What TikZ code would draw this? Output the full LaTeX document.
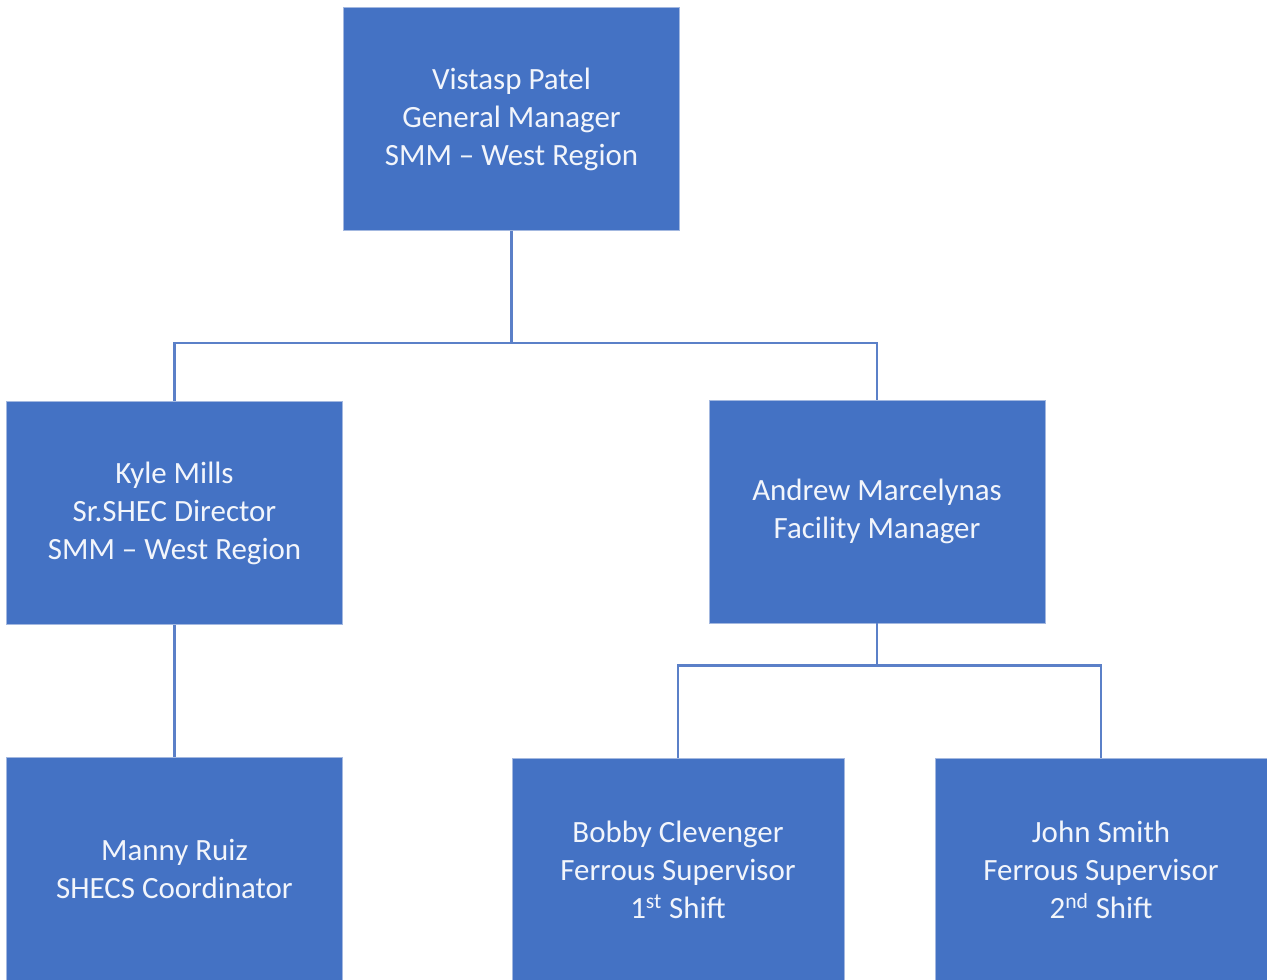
\documentclass[tikz,border=0pt]{standalone}
\usepackage{fontspec}
\setmainfont{Carlito}
\definecolor{caixa}{HTML}{4472C4}
\definecolor{borda}{HTML}{A3B8E0}
\definecolor{linha}{HTML}{5B80C8}
\definecolor{texto}{HTML}{F2F5FB}
\begin{document}
\begin{tikzpicture}[x=0.025cm,y=-0.025cm,
    cargo/.style={draw=borda,line width=0.6pt,fill=caixa,text=texto,align=center,
      inner sep=0pt,minimum width=8.4cm,minimum height=5.575cm,
      font=\fontsize{22}{27}\selectfont},
    elo/.style={draw=linha,line width=1.6pt}]
    \useasboundingbox (0,0) rectangle (1267,979);
    \clip (0,0) rectangle (1267,979);
    \node[cargo] (gm) at (511.5,119) {Vistasp Patel\\General Manager\\SMM -- West Region};
    \node[cargo] (kyle) at (174.5,513) {Kyle Mills\\Sr.SHEC Director\\SMM -- West Region};
    \node[cargo] (andrew) at (877,511.5) {Andrew Marcelynas\\Facility Manager};
    \node[cargo] (manny) at (174.5,869) {Manny Ruiz\\SHECS Coordinator};
    \node[cargo,minimum width=8.3cm] (bobby) at (678,870) {Bobby Clevenger\\Ferrous Supervisor\\1\textsuperscript{st} Shift};
    \node[cargo,minimum width=8.3cm] (john) at (1101,870) {John Smith\\Ferrous Supervisor\\2\textsuperscript{nd} Shift};
    \draw[elo] (gm.south) -- ++(0,112) -| (kyle.north);
    \draw[elo] (gm.south) -- ++(0,112) -| (andrew.north);
    \draw[elo] (kyle) -- (manny);
    \draw[elo] (andrew.south) -- ++(0,42) -| (bobby.north);
    \draw[elo] (andrew.south) -- ++(0,42) -| (john.north);
  \end{tikzpicture}
\end{document}
